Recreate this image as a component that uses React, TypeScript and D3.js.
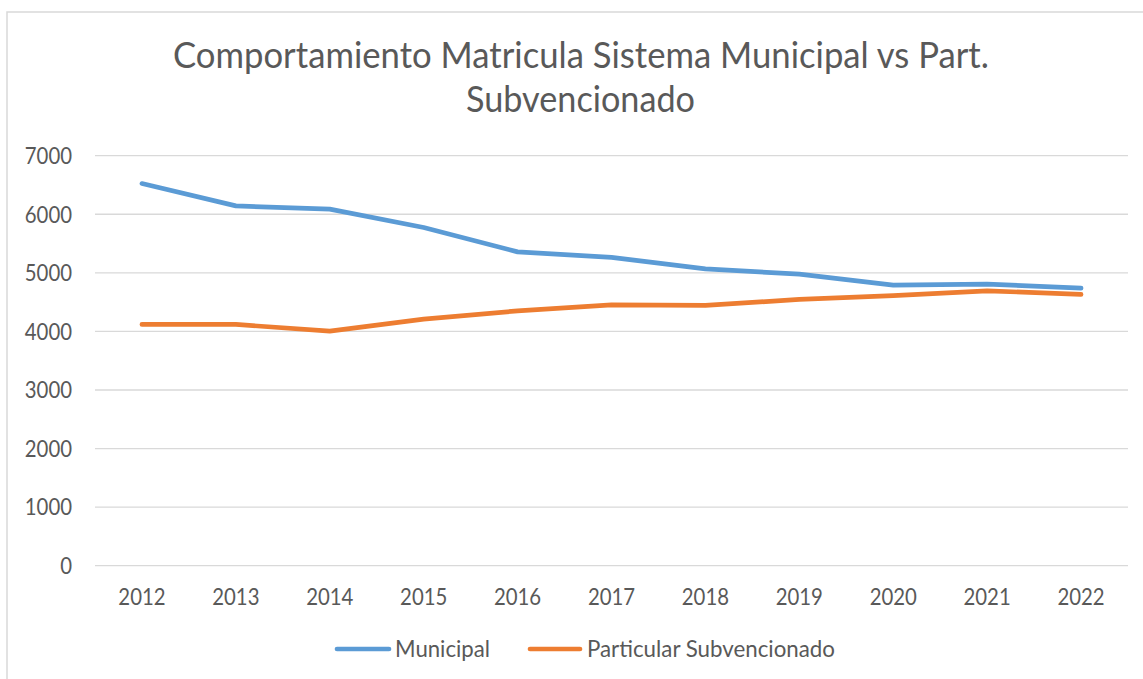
import React from "react";
import * as d3 from "d3";

const years = ["2012", "2013", "2014", "2015", "2016", "2017", "2018", "2019", "2020", "2021", "2022"];
const municipal = [6525, 6143, 6087, 5775, 5358, 5263, 5068, 4978, 4790, 4807, 4739];
const particular = [4119, 4119, 4005, 4210, 4351, 4454, 4444, 4546, 4611, 4693, 4631];
const yTicks = [0, 1000, 2000, 3000, 4000, 5000, 6000, 7000];
const titleLines = ["Comportamiento Matricula Sistema Municipal vs Part.", "Subvencionado"];
const seriesNames = ["Municipal", "Particular Subvencionado"];

const W = 1143;
const H = 679;
const FONT = "Lato, 'Open Sans', sans-serif";
const TEXT = "#595959";
const GRID = "#d9d9d9";
const COLORS = ["#5B9BD5", "#ED7D31"];

export default function App() {
  const x = d3.scaleBand<string>().domain(years).range([95, 1128]);
  const y = d3.scaleLinear().domain([0, 7000]).range([565.7, 155.7]);
  const cx = (d: string) => (x(d) as number) + x.bandwidth() / 2;
  const line = d3
    .line<number>()
    .x((_, i) => cx(years[i]))
    .y((v) => y(v))
    .curve(d3.curveLinear);
  const series = [municipal, particular];
  const digitW = 11.8;

  return (
    <svg
      width={W}
      height={H}
      style={{ position: "absolute", left: 0, top: 0, background: "#fff" }}
      fontFamily={FONT}
    >
      <rect x={7} y={12} width={1200} height={700} fill="#fff" stroke={GRID} strokeWidth={1.5} />
      {/* title */}
      <text x={581} y={68} textAnchor="middle" fontSize={36} fontWeight={400} fill={TEXT}
        textLength={816} lengthAdjust="spacingAndGlyphs">{titleLines[0]}</text>
      <text x={580.5} y={112} textAnchor="middle" fontSize={36} fontWeight={400} fill={TEXT}
        textLength={229} lengthAdjust="spacingAndGlyphs">{titleLines[1]}</text>
      {/* grid + y labels */}
      {yTicks.map((t) => (
        <g key={t}>
          <line x1={95} x2={1128} y1={y(t)} y2={y(t)} stroke={GRID} strokeWidth={1.3} />
          <text x={72} y={y(t)} dy="0.36em" textAnchor="end" fontSize={23} fill={TEXT}
            textLength={String(t).length * digitW} lengthAdjust="spacingAndGlyphs">{t}</text>
        </g>
      ))}
      {/* x labels */}
      {years.map((yr) => (
        <text key={yr} x={cx(yr)} y={605} textAnchor="middle" fontSize={23} fill={TEXT}
          textLength={yr.length * digitW} lengthAdjust="spacingAndGlyphs">{yr}</text>
      ))}
      {/* lines */}
      {series.map((s, i) => (
        <path key={i} d={line(s) || ""} fill="none" stroke={COLORS[i]} strokeWidth={4.7}
          strokeLinecap="round" strokeLinejoin="round" />
      ))}
      {/* legend */}
      <line x1={337} x2={389} y1={649} y2={649} stroke={COLORS[0]} strokeWidth={4.7} strokeLinecap="round" />
      <text x={395} y={657} fontSize={23} fill={TEXT} textLength={95} lengthAdjust="spacingAndGlyphs">{seriesNames[0]}</text>
      <line x1={530} x2={580} y1={649} y2={649} stroke={COLORS[1]} strokeWidth={4.7} strokeLinecap="round" />
      <text x={587} y={657} fontSize={23} fill={TEXT} textLength={248} lengthAdjust="spacingAndGlyphs">{seriesNames[1]}</text>
    </svg>
  );
}
